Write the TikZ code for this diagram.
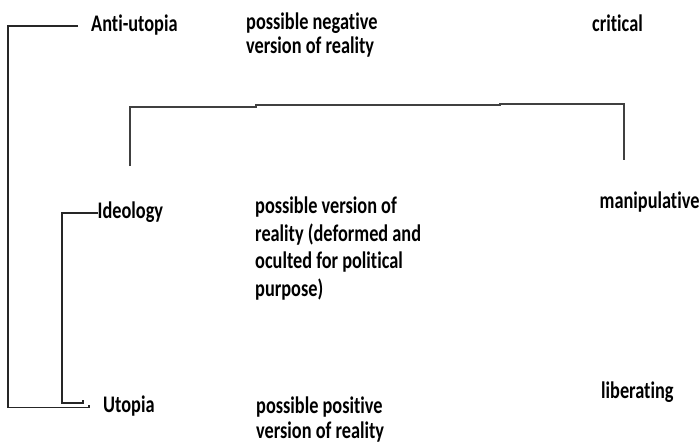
\documentclass[tikz,border=0pt]{standalone}
\usepackage{fontspec}
\usepackage{graphicx}
\newfontfamily\labelfont[Ligatures=NoCommon]{Carlito}
\newcommand\vstr[2]{\scalebox{1}[1.3]{\fontsize{18.3}{#1}\selectfont\begin{tabular}[t]{@{}l@{}}#2\end{tabular}}}
\tikzset{
  lbl/.style={inner sep=0pt, anchor=base west, font=\labelfont\bfseries\fontsize{18.3}{20}\selectfont, text=black},
  brk/.style={line width=1.4pt, draw=black!85},
  topline/.style={line width=1.6pt, draw=black!75},
}
\begin{document}
\begin{tikzpicture}[x=1pt,y=-1pt]
\useasboundingbox[fill=white] (0,0) rectangle (700,444);
% labels
\node[lbl] (anti) at (91,31.7) {\vstr{18.5}{Anti-utopia}};
\node[lbl] (neg) at (246,29.3) {\vstr{18.5}{possible negative\\version of reality}};
\node[lbl] (crit) at (592,31.7) {\vstr{18.5}{critical}};
\node[lbl] (ideo) at (97.5,218.3) {\vstr{18.5}{Ideology}};
\node[lbl] (mid) at (255,213.3) {\vstr{21.4}{possible version of\\reality (deformed and\\oculted for political\\purpose)}};
\node[lbl] (manip) at (599.5,208.3) {\vstr{18.5}{manipulative}};
\node[lbl] (uto) at (103,412.3) {\vstr{18.5}{Utopia}};
\node[lbl] (pos) at (256,413.3) {\vstr{19.2}{possible positive\\version of reality}};
\node[lbl] (lib) at (601,398.3) {\vstr{18.5}{liberating}};
% corner coordinates
\coordinate (aEnd) at (78,26);
\coordinate (aCorner) at (8,26);
\coordinate (uCorner) at (8,407.5);
\coordinate (uEnd) at (89,407.5);
\coordinate (uTick) at (89,404.5);
\coordinate (iEnd) at (98,213);
\coordinate (iCorner) at (62,213);
\coordinate (i2Corner) at (62,403);
\coordinate (i2End) at (83,403);
\coordinate (i2Tick) at (83,400);
\coordinate (tL) at (130,166);
\coordinate (tLc) at (130,107);
\coordinate (s1) at (256,107);
\coordinate (s1b) at (256,105);
\coordinate (s2) at (500,105);
\coordinate (s2b) at (500,104);
\coordinate (tRc) at (624,104);
\coordinate (tR) at (624,160);
% brackets
\draw[brk] (aEnd) -- (aCorner) -- (uCorner) -- (uEnd) -- (uTick);
\draw[brk] (iEnd) -- (iCorner) -- (i2Corner) -- (i2End) -- (i2Tick);
% top connector
\draw[topline] (tL) -- (tLc) -- (s1) -- (s1b) -- (s2) -- (s2b) -- (tRc) -- (tR);
\end{tikzpicture}
\end{document}
